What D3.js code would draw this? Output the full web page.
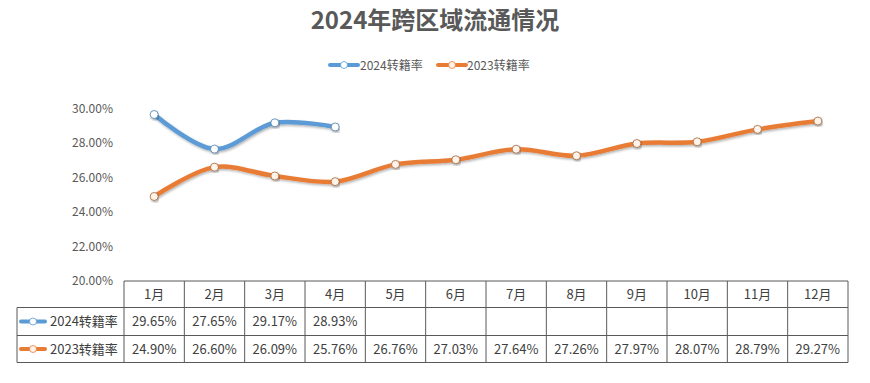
<!DOCTYPE html>
<html>
<head>
<meta charset="utf-8">
<script src="https://cdn.jsdelivr.net/npm/d3@7"></script>
<style>
  body { margin: 0; background: #fff; }
  svg text { font-family: "Noto Sans CJK SC", "Microsoft YaHei", sans-serif; }
</style>
</head>
<body>
<svg id="chart" width="870" height="383"></svg>
<script>
// --- data ---
const months = ["1月", "2月", "3月", "4月", "5月", "6月", "7月", "8月", "9月", "10月", "11月", "12月"];
const series2024 = [29.65, 27.65, 29.17, 28.93];
const series2023 = [24.90, 26.60, 26.09, 25.76, 26.76, 27.03, 27.64, 27.26, 27.97, 28.07, 28.79, 29.27];
const seriesNames = ["2024转籍率", "2023转籍率"];
const yTicks = [20, 22, 24, 26, 28, 30];

const colors = ["#5b9bd5", "#e97c35"];
const markerFill = ["#ffffff", "#fff3ea"];
const allSeries = [series2024, series2023];

const svg = d3.select("#chart");

const tableLeft = 17, plotLeft = 124, plotRight = 848;
const plotTop = 108.5, plotBottom = 281;
const rowH = [26.5, 28, 27];

const x = d3.scaleBand().domain(months).range([plotLeft, plotRight]);
const y = d3.scaleLinear().domain([20, 30]).range([plotBottom, plotTop]);

// shadow filter for the lines
const defs = svg.append("defs");
const f = defs.append("filter").attr("id", "shadow")
    .attr("x", "-5%").attr("y", "-20%").attr("width", "110%").attr("height", "140%");
f.append("feDropShadow").attr("dx", 1).attr("dy", 1.5).attr("stdDeviation", 1.2)
    .attr("flood-color", "#000").attr("flood-opacity", 0.3);

// title
svg.append("text")
    .attr("x", 435).attr("y", 29)
    .attr("text-anchor", "middle")
    .attr("font-size", 24).attr("font-weight", "bold")
    .attr("fill", "#595959")
    .text("2024年跨区域流通情况");

// legend symbol helper
function legendSymbol(g, cx, cy, i, w) {
    g.append("line")
        .attr("x1", cx - w / 2).attr("x2", cx + w / 2)
        .attr("y1", cy).attr("y2", cy)
        .attr("stroke", colors[i]).attr("stroke-width", 4).attr("stroke-linecap", "round");
    g.append("circle")
        .attr("cx", cx).attr("cy", cy).attr("r", 3.5)
        .attr("fill", markerFill[i]).attr("stroke", colors[i]).attr("stroke-width", 0.8);
}

// top legend
const legend = svg.append("g");
[[344, 360], [452, 467]].forEach(([sx, tx], i) => {
    legendSymbol(legend, sx, 65, i, 28);
    legend.append("text")
        .attr("x", tx).attr("y", 69.5)
        .attr("font-size", 12).attr("fill", "#595959")
        .text(seriesNames[i]);
});

// y axis labels
svg.append("g").selectAll("text")
    .data(yTicks).enter().append("text")
    .attr("x", 113).attr("y", d => y(d) + 4)
    .attr("text-anchor", "end")
    .attr("font-size", 12).attr("fill", "#595959")
    .text(d => d.toFixed(2) + "%");

// lines
const line = d3.line()
    .x((d, i) => x(months[i]) + x.bandwidth() / 2)
    .y(d => y(d))
    .curve(d3.curveCatmullRom.alpha(0.5));

allSeries.forEach((vals, s) => {
    svg.append("path")
        .datum(vals)
        .attr("d", line)
        .attr("fill", "none")
        .attr("stroke", colors[s])
        .attr("stroke-width", 4.5)
        .attr("stroke-linecap", "round")
        .attr("filter", "url(#shadow)");
});
allSeries.forEach((vals, s) => {
    svg.append("g").selectAll("circle")
        .data(vals).enter().append("circle")
        .attr("cx", (d, i) => x(months[i]) + x.bandwidth() / 2)
        .attr("cy", d => y(d))
        .attr("r", 4)
        .attr("fill", markerFill[s])
        .attr("stroke", s === 0 ? "#4a7fb0" : "#a0643a")
        .attr("stroke-width", 0.8)
        .attr("filter", "url(#shadow)");
});

// data table
const table = svg.append("g").attr("stroke", "#595959").attr("stroke-width", 1);
const rowY = [plotBottom, plotBottom + rowH[0], plotBottom + rowH[0] + rowH[1], plotBottom + rowH[0] + rowH[1] + rowH[2]];

// horizontal lines
table.append("line").attr("x1", plotLeft).attr("x2", plotRight).attr("y1", rowY[0]).attr("y2", rowY[0]);
[1, 2, 3].forEach(r => {
    table.append("line").attr("x1", tableLeft).attr("x2", plotRight).attr("y1", rowY[r]).attr("y2", rowY[r]);
});
// vertical lines
table.append("line").attr("x1", tableLeft).attr("x2", tableLeft).attr("y1", rowY[1]).attr("y2", rowY[3]);
months.forEach((m, i) => {
    table.append("line").attr("x1", x(m)).attr("x2", x(m)).attr("y1", rowY[0]).attr("y2", rowY[3]);
});
table.append("line").attr("x1", plotRight).attr("x2", plotRight).attr("y1", rowY[0]).attr("y2", rowY[3]);

// header text
svg.append("g").selectAll("text")
    .data(months).enter().append("text")
    .attr("x", d => x(d) + x.bandwidth() / 2)
    .attr("y", (rowY[0] + rowY[1]) / 2 + 4.5)
    .attr("text-anchor", "middle")
    .attr("font-size", 13).attr("fill", "#404040")
    .text(d => d);

// row labels and values
allSeries.forEach((vals, s) => {
    const cy = (rowY[s + 1] + rowY[s + 2]) / 2;
    const g = svg.append("g");
    legendSymbol(g, 33, cy, s, 24);
    g.append("text")
        .attr("x", 50).attr("y", cy + 4.5)
        .attr("font-size", 13).attr("fill", "#404040")
        .text(seriesNames[s]);
    g.selectAll("text.v")
        .data(vals).enter().append("text")
        .attr("class", "v")
        .attr("x", (d, i) => x(months[i]) + x.bandwidth() / 2)
        .attr("y", cy + 4.5)
        .attr("text-anchor", "middle")
        .attr("font-size", 13).attr("fill", "#404040")
        .text(d => d.toFixed(2) + "%");
});
</script>
</body>
</html>
